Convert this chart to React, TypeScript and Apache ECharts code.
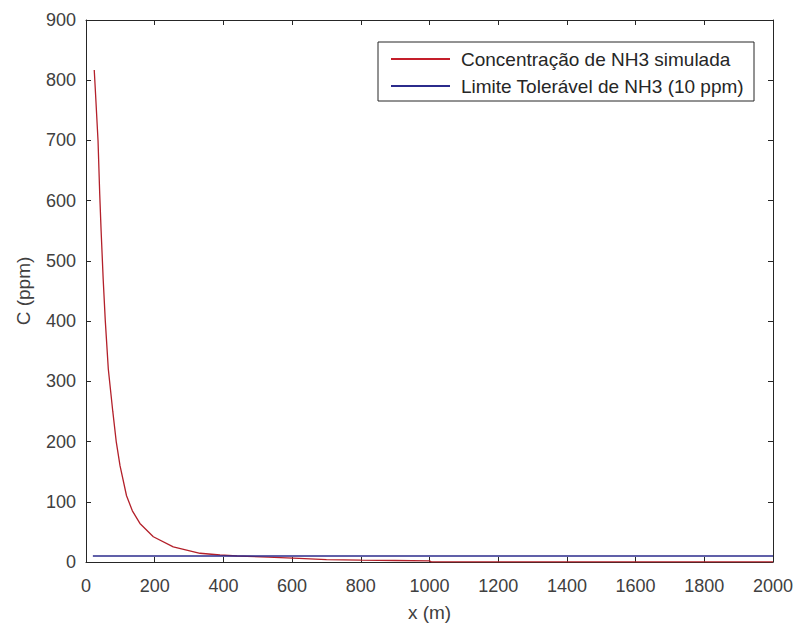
import React, { useEffect, useRef } from "react";
import * as echarts from "echarts";

const simX = [24, 28, 35, 40, 44, 50, 56, 65, 78, 88, 99, 118, 135, 157, 196, 254, 332, 390, 440, 530, 620, 700, 800, 900, 1000, 1005, 1500, 2000];
const simY = [817, 775, 700, 610, 550, 470, 402, 320, 250, 200, 160, 110, 85, 64, 42, 25, 14.5, 11.6, 10, 8, 6, 4, 3, 2.5, 2, 0.3, 0.2, 0.1];
const limX = [20, 2000];
const limY = [10, 10];
const seriesNames = ["Concentração de NH3 simulada", "Limite Tolerável de NH3 (10 ppm)"];

const FONT = "Arial, 'Liberation Sans', Helvetica, sans-serif";
const TXT = "#404040";
const AX = "#262626";

export default function App() {
  const ref = useRef<HTMLDivElement>(null);
  useEffect(() => {
    if (!ref.current) return;
    const chart = echarts.init(ref.current, undefined, { renderer: "svg" });
    const axCommon = {
      axisLine: { show: true, onZero: false, lineStyle: { color: AX, width: 1 } },
      axisTick: { show: true, inside: true, length: 5, lineStyle: { color: AX, width: 1 } },
      splitLine: { show: false },
    };
    chart.setOption({
      animation: false,
      backgroundColor: "#ffffff",
      textStyle: { fontFamily: FONT },
      grid: { left: 86, right: 26, top: 20, bottom: 69, containLabel: false, outerBoundsMode: "none" },
      legend: {
        orient: "vertical",
        left: 378,
        top: 42,
        padding: [7, 10, 5, 13],
        itemGap: 7,
        itemWidth: 59,
        itemHeight: 2,
        icon: "rect",
        backgroundColor: "#ffffff",
        borderColor: AX,
        borderWidth: 1,
        borderRadius: 0,
        textStyle: { fontSize: 19, color: "#262626", fontFamily: FONT, lineHeight: 20, padding: [0, 0, 0, 6] },
        data: seriesNames,
      },
      xAxis: [
        {
          type: "value",
          min: 0,
          max: 2000,
          interval: 200,
          name: "x (m)",
          nameLocation: "middle",
          nameGap: 41,
          nameTextStyle: { fontSize: 19, color: TXT, fontFamily: FONT },
          axisLabel: { fontSize: 18, color: TXT, margin: 15, fontFamily: FONT, formatter: (v: number) => String(v) },
          ...axCommon,
        },
        {
          type: "value",
          position: "top",
          min: 0,
          max: 2000,
          interval: 200,
          axisLabel: { show: false },
          ...axCommon,
        },
      ],
      yAxis: [
        {
          type: "value",
          min: 0,
          max: 900,
          interval: 100,
          name: "C (ppm)",
          nameLocation: "middle",
          nameGap: 53,
          nameTextStyle: { fontSize: 19, color: TXT, fontFamily: FONT },
          axisLabel: { fontSize: 18, color: TXT, margin: 10, fontFamily: FONT, formatter: (v: number) => String(v) },
          ...axCommon,
        },
        {
          type: "value",
          position: "right",
          min: 0,
          max: 900,
          interval: 100,
          axisLabel: { show: false },
          ...axCommon,
        },
      ],
      series: [
        {
          name: seriesNames[0],
          type: "line",
          showSymbol: false,
          smooth: false,
          data: simX.map((x, i) => [x, simY[i]]),
          lineStyle: { color: "#b3202a", width: 1.3 },
          itemStyle: { color: "#c41e2a" },
          z: 2,
        },
        {
          name: seriesNames[1],
          type: "line",
          showSymbol: false,
          data: limX.map((x, i) => [x, limY[i]]),
          lineStyle: { color: "#2b2b8c", width: 1.3 },
          itemStyle: { color: "#2b2b8c" },
          z: 3,
        },
      ],
    });
    return () => chart.dispose();
  }, []);
  return <div ref={ref} style={{ position: "fixed", left: 0, top: 0, width: 799, height: 631 }} />;
}
